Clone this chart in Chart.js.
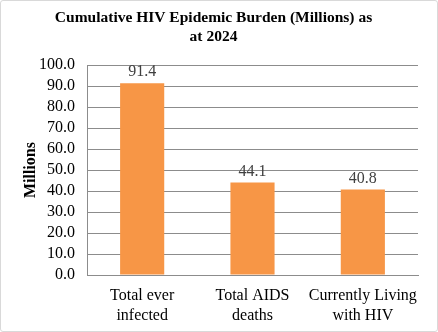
<!DOCTYPE html>
<html>
<head>
<meta charset="utf-8">
<script src="https://cdn.jsdelivr.net/npm/chart.js@4"></script>
<style>
    html, body { margin: 0; padding: 0; background: #fff; }
    .frame {
        width: 438px; height: 332px; box-sizing: border-box;
        border: 1px solid #d9d9d9; border-radius: 3px; position: relative;
    }
    canvas { position: absolute; left: 0; top: 0; }
</style>
</head>
<body>
<div class="frame"><canvas id="hivChart" width="436" height="330"></canvas></div>
<script>
// categories and values (millions)
const categories = [['Total ever', 'infected'], ['Total AIDS', 'deaths'], ['Currently Living', 'with HIV']];
const burden = [91.4, 44.1, 40.8];
const titleLines = ['Cumulative HIV Epidemic Burden (Millions) as', 'at 2024'];

const serif = "'Liberation Serif', 'Times New Roman', serif";
const axisGray = '#8c8c8c';

// value labels drawn above each bar
const barLabels = {
    id: 'barLabels',
    afterDatasetsDraw(chart) {
        const ctx = chart.ctx;
        const meta = chart.getDatasetMeta(0);
        ctx.save();
        ctx.font = `16px ${serif}`;
        ctx.fillStyle = '#404040';
        ctx.textAlign = 'center';
        ctx.textBaseline = 'bottom';
        meta.data.forEach((bar, i) => {
            ctx.fillText(burden[i].toFixed(1), bar.x, bar.y - 3);
        });
        ctx.restore();
    }
};

new Chart(document.getElementById('hivChart'), {
    type: 'bar',
    data: {
        labels: categories,
        datasets: [{
            data: burden,
            backgroundColor: '#f79646',
            borderWidth: 0,
            barPercentage: 0.8,
            categoryPercentage: 0.5
        }]
    },
    options: {
        responsive: false,
        animation: false,
        layout: { padding: { left: 8, right: 19, top: 6, bottom: 0 } },
        plugins: {
            legend: { display: false },
            tooltip: { enabled: false },
            title: {
                display: true,
                text: titleLines,
                color: '#000',
                font: { family: serif, size: 15.5, weight: 'bold', lineHeight: 1.2 },
                padding: { top: 2, bottom: 19 }
            }
        },
        scales: {
            x: {
                afterFit: (scale) => { scale.height = 56; },
                grid: { display: false, drawTicks: false },
                border: { color: axisGray, width: 1 },
                ticks: {
                    color: '#000',
                    font: { family: serif, size: 16, lineHeight: 1.25 },
                    padding: 11,
                    maxRotation: 0,
                    autoSkip: false
                }
            },
            y: {
                min: 0,
                max: 100,
                afterFit: (scale) => { scale.width = 78; },
                ticks: {
                    stepSize: 10,
                    autoSkip: false,
                    color: '#000',
                    font: { family: serif, size: 16 },
                    padding: 12,
                    callback: v => v.toFixed(1)
                },
                grid: { color: axisGray, drawTicks: false },
                border: { color: axisGray, width: 1 },
                title: {
                    display: true,
                    text: 'Millions',
                    color: '#000',
                    font: { family: serif, size: 16, weight: 'bold' },
                    padding: { top: 12, bottom: 0 }
                }
            }
        }
    },
    plugins: [barLabels]
});
</script>
</body>
</html>
